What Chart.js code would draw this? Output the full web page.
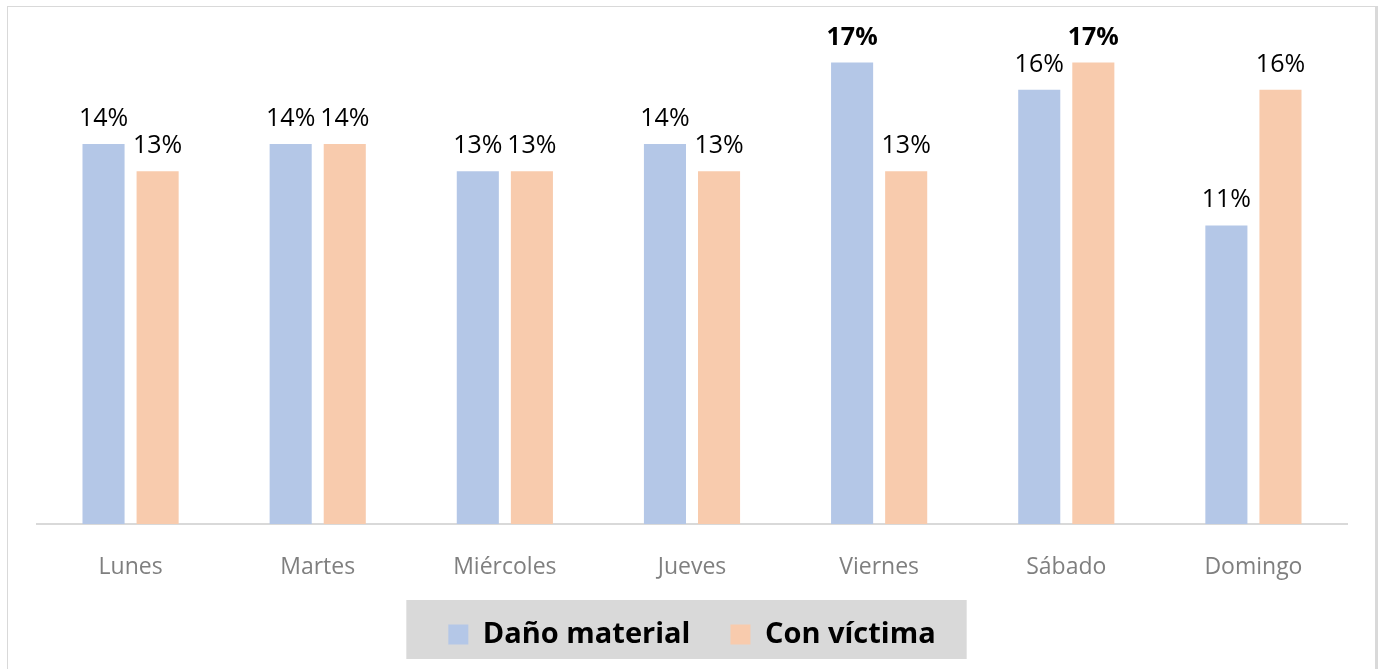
<!DOCTYPE html>
<html>
<head>
<meta charset="utf-8">
<script src="https://cdn.jsdelivr.net/npm/chart.js"></script>
<style>
  html, body { margin: 0; padding: 0; background: #fff; }
  #frame { position: absolute; left: 7px; top: 6px; width: 1367px; height: 700px;
           border: 1px solid #d9d9d9; border-right: 3px solid #d9d9d9; }
  #wrap { position: absolute; left: 0; top: 0; width: 1385px; height: 669px; }
</style>
</head>
<body>
<div id="frame"></div>
<div id="wrap"><canvas id="myChart"></canvas></div>
<script>
const days = ['Lunes', 'Martes', 'Miércoles', 'Jueves', 'Viernes', 'Sábado', 'Domingo'];
const danoMaterial = [14, 14, 13, 14, 17, 16, 11];
const conVictima = [13, 14, 13, 13, 13, 17, 16];
const seriesNames = ['Daño material', 'Con víctima'];
const seriesColors = ['#b4c7e7', '#f8cbad'];

// etiquetas de valor encima de cada barra (la máxima de cada serie en negrita)
const valueLabels = {
  id: 'valueLabels',
  afterDatasetsDraw(chart) {
    const ctx = chart.ctx;
    ctx.save();
    ctx.textAlign = 'center';
    ctx.textBaseline = 'alphabetic';
    ctx.fillStyle = '#000';
    chart.data.datasets.forEach((ds, i) => {
      const max = Math.max(...ds.data);
      chart.getDatasetMeta(i).data.forEach((bar, j) => {
        const v = ds.data[j];
        ctx.font = (v === max ? 'bold ' : '') + '25px "Open Sans"';
        ctx.fillText(v + '%', bar.x, bar.y - 18);
      });
    });
    ctx.restore();
  }
};

// fondo gris de la leyenda y altura fija
const legendBox = {
  id: 'legendBox',
  beforeLayout(chart) {
    const lg = chart.legend;
    if (lg && !lg._patched) {
      const fit = lg.fit;
      lg.fit = function () { fit.call(this); this.height = 89; };
      lg._patched = true;
    }
  },
  beforeDraw(chart) {
    const hb = chart.legend.legendHitBoxes;
    if (!hb || !hb.length) return;
    const first = hb[0], last = hb[hb.length - 1];
    const ctx = chart.ctx;
    ctx.save();
    ctx.fillStyle = '#d9d9d9';
    const top = first.top - 20;
    ctx.fillRect(first.left - 42, top, last.left + last.width - first.left + 73, 59);
    ctx.restore();
  }
};

new Chart(document.getElementById('myChart'), {
  type: 'bar',
  data: {
    labels: days,
    datasets: [
      { label: seriesNames[0], data: danoMaterial, backgroundColor: seriesColors[0], borderWidth: 0 },
      { label: seriesNames[1], data: conVictima, backgroundColor: seriesColors[1], borderWidth: 0 }
    ]
  },
  options: {
    responsive: true,
    maintainAspectRatio: false,
    animation: false,
    categoryPercentage: 0.578,
    barPercentage: 0.778,
    layout: { padding: { left: 37, right: 38, top: 11, bottom: 0 } },
    scales: {
      x: {
        grid: { display: false },
        border: { color: '#d9d9d9', width: 2 },
        ticks: { color: '#7f7f7f', font: { family: 'Open Sans', size: 23 }, padding: 22 },
        afterFit(scale) { scale.height = 56; }
      },
      y: { display: false, min: 0, max: 18.9 }
    },
    plugins: {
      tooltip: { enabled: false },
      legend: {
        position: 'bottom',
        labels: {
          color: '#000',
          boxWidth: 20,
          boxHeight: 20,
          padding: 40,
          font: { family: 'Open Sans', size: 29, weight: 'bold' }
        }
      }
    }
  },
  plugins: [valueLabels, legendBox]
});
</script>
</body>
</html>
